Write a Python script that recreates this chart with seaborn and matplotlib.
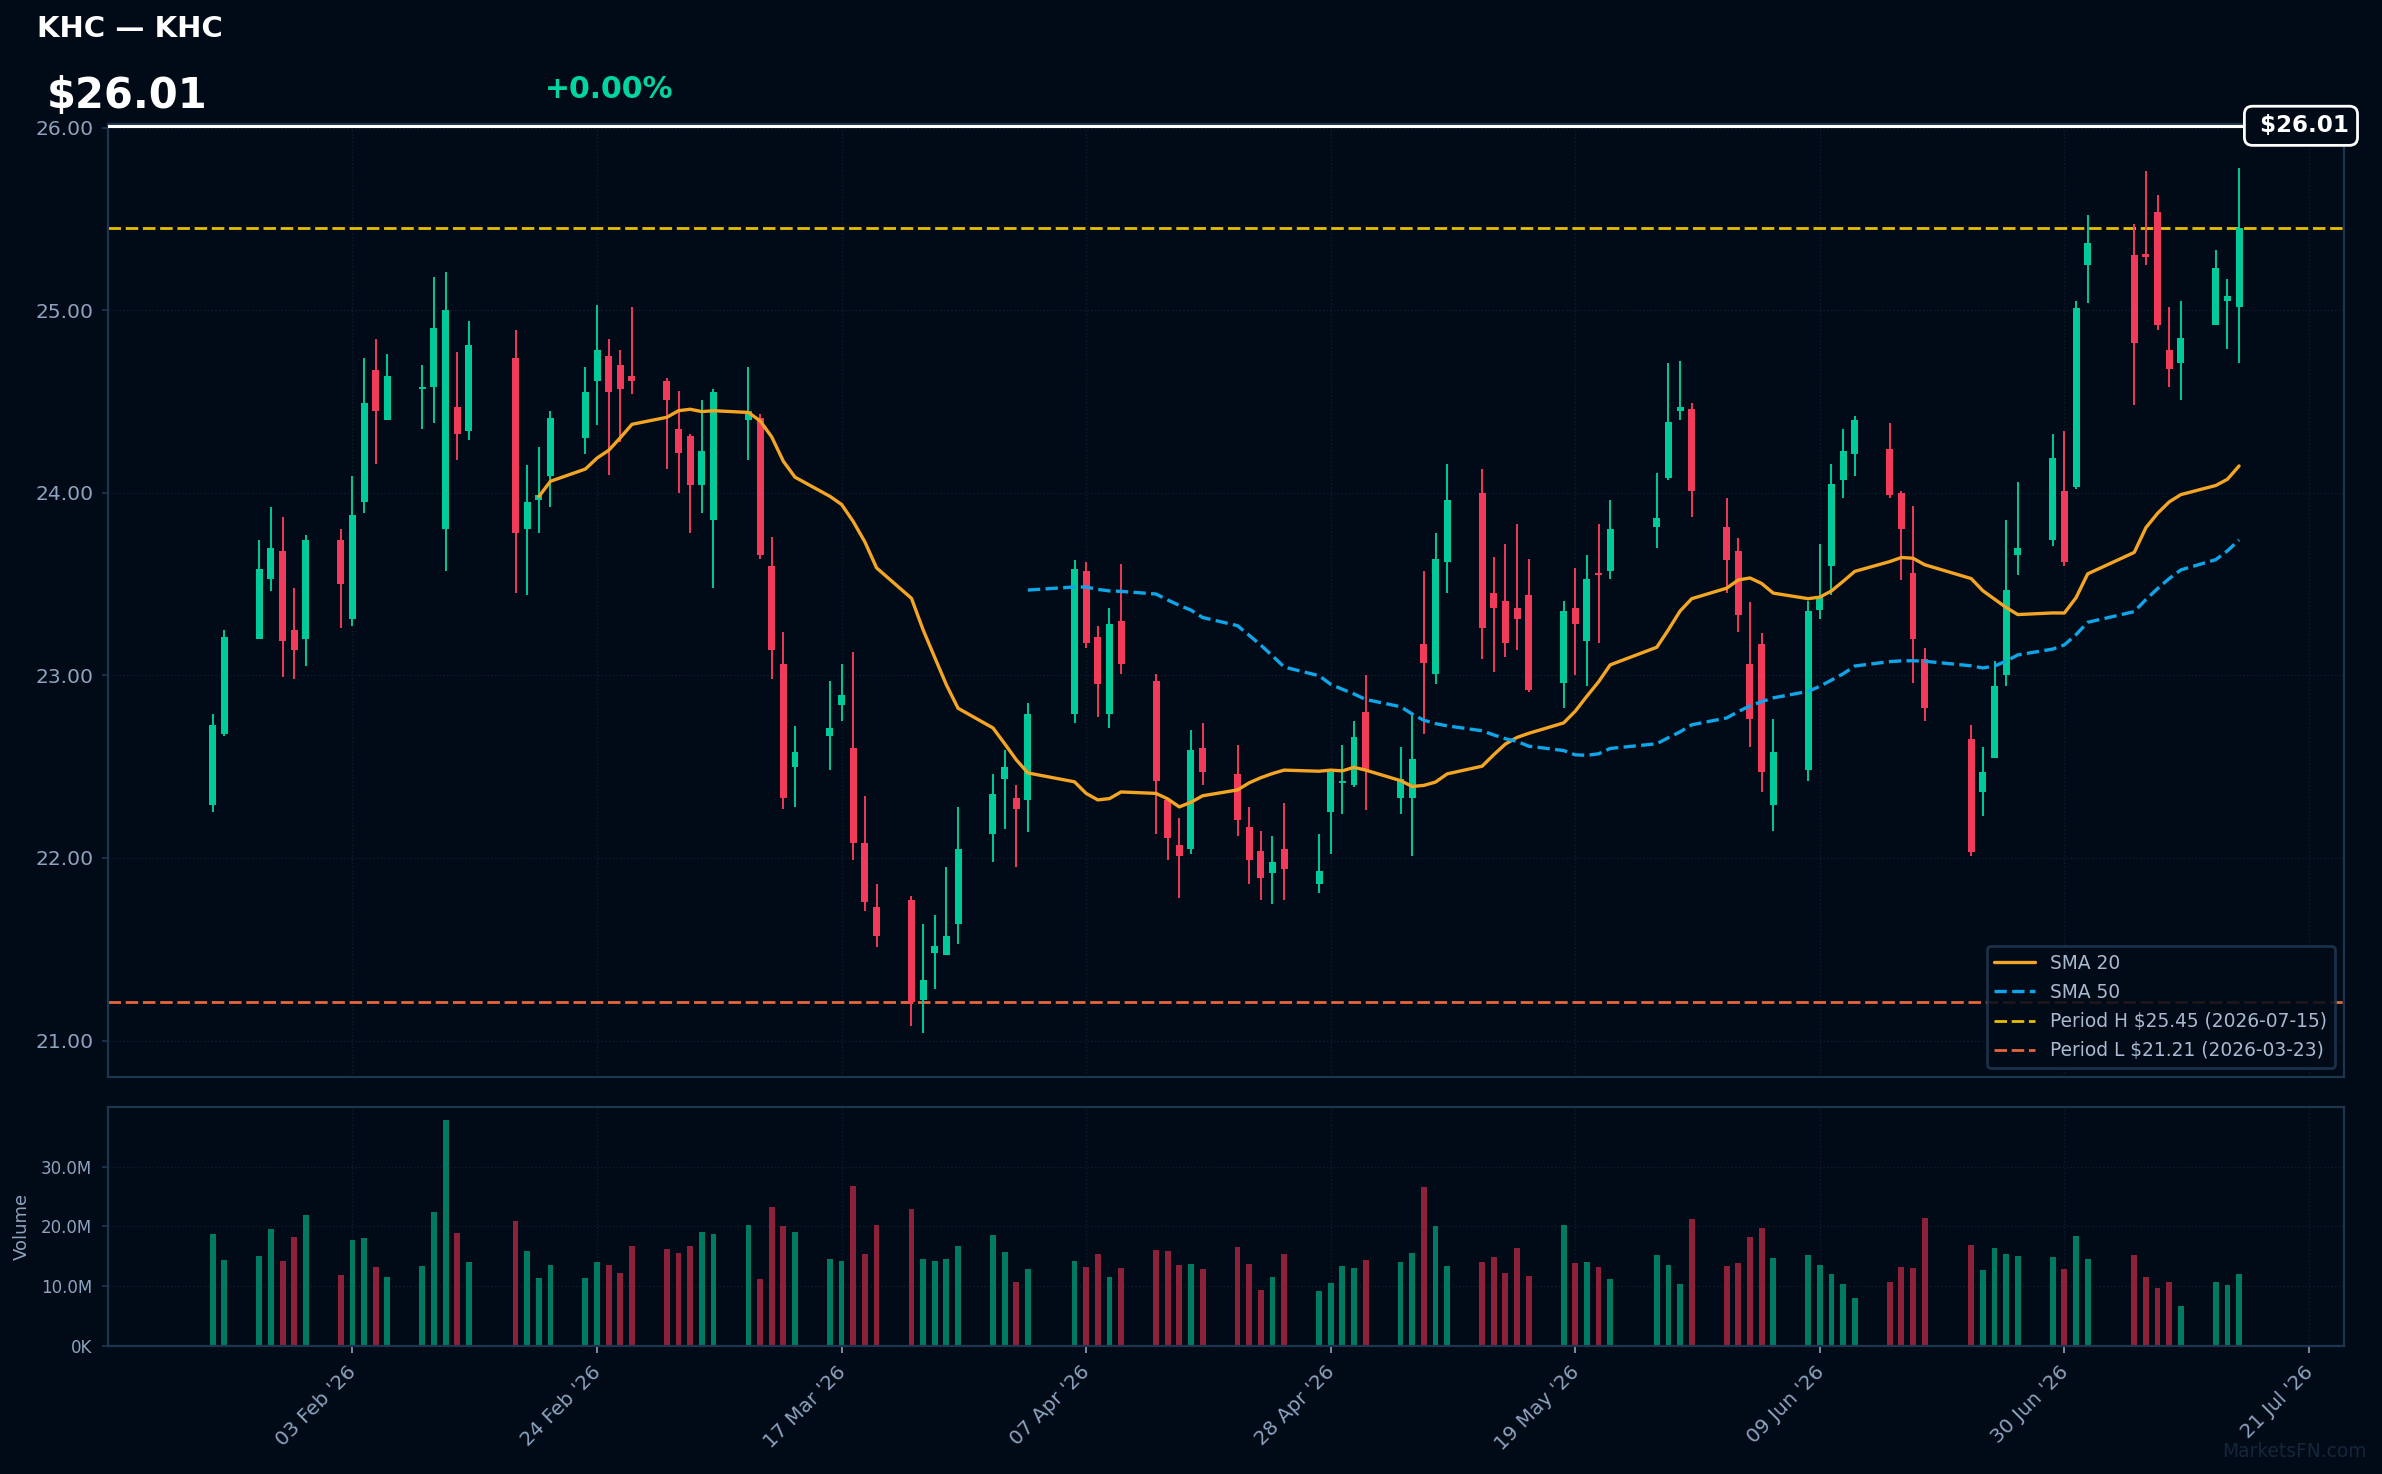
import numpy as np
import pandas as pd
import seaborn as sns
import matplotlib
matplotlib.use("Agg")
import matplotlib.pyplot as plt
import matplotlib.dates as mdates
import matplotlib.transforms as mtrans
from matplotlib.ticker import FixedLocator, FuncFormatter, MultipleLocator

TICKER = "KHC"
LAST_PRICE = 26.01
CHANGE_PCT = 0.00

# trading calendar (NYSE holidays dropped)
HOLIDAYS = ["2026-02-16", "2026-04-03", "2026-05-25", "2026-06-19", "2026-07-03"]
dates = pd.bdate_range("2026-01-22", "2026-07-15", freq="C", holidays=HOLIDAYS)

opens = [22.29, 22.68, 23.20, 23.53, 23.68, 23.25, 23.20, 23.74, 23.31, 23.95,
         24.67, 24.40, 24.57, 24.58, 23.80, 24.47, 24.34, 24.74, 23.80, 23.96,
         24.09, 24.30, 24.61, 24.75, 24.70, 24.64, 24.61, 24.35, 24.31, 24.04,
         23.85, 24.40, 24.41, 23.60, 23.06, 22.50, 22.67, 22.84, 22.60, 22.08,
         21.73, 21.77, 21.22, 21.48, 21.47, 21.64, 22.13, 22.43, 22.33, 22.32,
         22.79, 23.57, 23.21, 22.79, 23.30, 22.97, 22.32, 22.07, 22.05, 22.60,
         22.46, 22.17, 22.04, 21.92, 22.05, 21.86, 22.25, 22.41, 22.40, 22.80,
         22.33, 22.33, 23.17, 23.01, 23.62, 24.00, 23.45, 23.41, 23.37, 23.44,
         22.96, 23.37, 23.19, 23.56, 23.57, 23.81, 24.08, 24.45, 24.46, 23.81,
         23.68, 23.06, 23.17, 22.29, 22.48, 23.36, 23.60, 24.07, 24.21, 24.24,
         24.00, 23.56, 23.09, 22.65, 22.36, 22.55, 23.00, 23.66, 23.74, 24.01,
         24.03, 25.25, 25.30, 25.31, 25.54, 24.78, 24.71, 24.92, 25.05, 25.02]
highs = [22.79, 23.25, 23.74, 23.92, 23.87, 23.48, 23.77, 23.80, 24.09, 24.74,
         24.84, 24.76, 24.70, 25.18, 25.21, 24.77, 24.94, 24.89, 24.15, 24.25,
         24.45, 24.69, 25.03, 24.84, 24.78, 25.02, 24.63, 24.56, 24.32, 24.51,
         24.57, 24.69, 24.43, 23.76, 23.24, 22.72, 22.97, 23.06, 23.13, 22.34,
         21.86, 21.79, 21.64, 21.69, 21.95, 22.28, 22.46, 22.59, 22.40, 22.85,
         23.63, 23.62, 23.27, 23.37, 23.61, 23.01, 22.32, 22.22, 22.70, 22.74,
         22.62, 22.28, 22.15, 22.12, 22.30, 22.13, 22.47, 22.62, 22.75, 23.00,
         22.61, 22.79, 23.57, 23.78, 24.16, 24.13, 23.65, 23.72, 23.83, 23.64,
         23.41, 23.59, 23.66, 23.83, 23.96, 24.11, 24.71, 24.72, 24.49, 23.97,
         23.75, 23.40, 23.23, 22.76, 23.41, 23.72, 24.16, 24.35, 24.42, 24.38,
         24.01, 23.93, 23.15, 22.73, 22.61, 23.08, 23.85, 24.06, 24.32, 24.34,
         25.05, 25.52, 25.47, 25.76, 25.63, 25.02, 25.05, 25.33, 25.17, 25.78]
lows = [22.25, 22.67, 23.20, 23.46, 22.99, 22.98, 23.05, 23.26, 23.27, 23.89,
        24.16, 24.40, 24.35, 24.38, 23.57, 24.18, 24.29, 23.45, 23.44, 23.78,
        23.92, 24.21, 24.37, 24.10, 24.28, 24.54, 24.13, 24.00, 23.78, 23.89,
        23.48, 24.18, 23.64, 22.98, 22.27, 22.28, 22.48, 22.75, 21.99, 21.71,
        21.51, 21.08, 21.04, 21.28, 21.47, 21.53, 21.98, 22.16, 21.95, 22.14,
        22.74, 23.15, 22.77, 22.71, 23.01, 22.13, 21.99, 21.78, 22.02, 22.40,
        22.12, 21.86, 21.77, 21.75, 21.77, 21.81, 22.02, 22.24, 22.39, 22.26,
        22.24, 22.01, 22.68, 22.95, 23.45, 23.09, 23.02, 23.10, 23.14, 22.91,
        22.82, 23.00, 22.94, 23.18, 23.53, 23.70, 24.07, 24.40, 23.87, 23.45,
        23.24, 22.61, 22.36, 22.15, 22.42, 23.31, 23.44, 23.97, 24.09, 23.97,
        23.52, 22.96, 22.75, 22.01, 22.23, 22.55, 22.94, 23.55, 23.71, 23.60,
        24.02, 25.04, 24.48, 25.25, 24.89, 24.58, 24.51, 24.92, 24.79, 24.71]
closes = [22.73, 23.21, 23.58, 23.70, 23.19, 23.14, 23.74, 23.50, 23.88, 24.49,
          24.45, 24.64, 24.58, 24.90, 25.00, 24.32, 24.81, 23.78, 23.95, 23.99,
          24.41, 24.55, 24.78, 24.55, 24.57, 24.61, 24.51, 24.22, 24.04, 24.23,
          24.55, 24.45, 23.66, 23.14, 22.33, 22.58, 22.71, 22.89, 22.08, 21.76,
          21.57, 21.21, 21.33, 21.52, 21.57, 22.05, 22.35, 22.50, 22.27, 22.79,
          23.58, 23.18, 22.95, 23.28, 23.06, 22.42, 22.11, 22.01, 22.59, 22.47,
          22.21, 21.99, 21.89, 21.98, 21.94, 21.93, 22.47, 22.42, 22.66, 22.48,
          22.43, 22.54, 23.07, 23.64, 23.96, 23.26, 23.37, 23.18, 23.31, 22.92,
          23.35, 23.28, 23.53, 23.55, 23.80, 23.86, 24.39, 24.47, 24.01, 23.63,
          23.33, 22.76, 22.47, 22.58, 23.35, 23.43, 24.05, 24.23, 24.40, 23.99,
          23.80, 23.20, 22.82, 22.03, 22.47, 22.94, 23.47, 23.70, 24.19, 23.62,
          25.01, 25.37, 24.82, 25.29, 24.92, 24.68, 24.85, 25.23, 25.08, 25.45]
volume_m = [18.66, 14.32, 14.99, 19.50, 14.15, 18.16, 22.00, 11.81, 17.66, 17.99,
            13.15, 11.48, 13.31, 22.50, 37.88, 18.83, 13.98, 20.84, 15.82, 11.31,
            13.48, 11.31, 13.98, 13.48, 12.14, 16.66, 16.16, 15.49, 16.66, 19.16,
            18.66, 20.17, 11.14, 23.34, 20.00, 19.00, 14.48, 14.15, 26.69, 15.32,
            20.33, 22.84, 14.48, 14.15, 14.48, 16.66, 18.50, 15.65, 10.64, 12.81,
            14.15, 13.15, 15.32, 11.48, 12.98, 15.99, 15.82, 13.48, 13.65, 12.81,
            16.49, 13.65, 9.30, 11.48, 15.32, 9.14, 10.47, 13.31, 12.98, 14.32,
            13.98, 15.49, 26.52, 20.00, 13.31, 13.98, 14.82, 12.14, 16.32, 11.64,
            20.17, 13.82, 13.98, 13.15, 11.14, 15.15, 13.48, 10.31, 21.17, 13.31,
            13.82, 18.16, 19.67, 14.65, 15.15, 13.48, 11.98, 10.31, 7.97, 10.64,
            13.15, 12.98, 21.50, 16.82, 12.65, 16.32, 15.32, 14.99, 14.82, 12.81,
            18.33, 14.48, 15.15, 11.48, 9.64, 10.64, 6.63, 10.64, 10.14, 11.98]

tick_dates = ["2026-02-03", "2026-02-24", "2026-03-17", "2026-04-07", "2026-04-28",
              "2026-05-19", "2026-06-09", "2026-06-30", "2026-07-21"]

df = pd.DataFrame({"open": opens, "high": highs, "low": lows, "close": closes,
                   "volume": np.array(volume_m) * 1e6}, index=dates)
df["sma20"] = df["close"].rolling(20).mean()
df["sma50"] = df["close"].rolling(50).mean()
xs = mdates.date2num(df.index.to_pydatetime())

BG = "#010b17"
EDGE = "#1e3550"
TXT = "#8ea3bf"
UP, DOWN = "#00c99a", "#f23a5b"
VUP, VDOWN = "#017a62", "#8c2139"

sns.set_theme(style="dark", rc={
    "figure.facecolor": BG, "axes.facecolor": BG, "savefig.facecolor": BG,
    "axes.edgecolor": EDGE, "axes.linewidth": 0.8,
    "grid.color": "#0f1d2e", "grid.linestyle": ":", "grid.linewidth": 0.5,
    "xtick.color": TXT, "ytick.color": TXT, "axes.labelcolor": TXT,
    "text.color": "white",
})
plt.rcParams["font.family"] = ["DejaVu Sans"]

fig = plt.figure(figsize=(11.91, 7.37), dpi=200)
ax = fig.add_axes([0.0453, 0.2693, 0.9387, 0.6466])
axv = fig.add_axes([0.0453, 0.0868, 0.9387, 0.1621], sharex=ax)

up = (df["close"] >= df["open"]).values
ccol = np.where(up, UP, DOWN)
vcol = np.where(up, VUP, VDOWN)

# candles
ax.vlines(xs, df["low"], df["high"], colors=ccol, lw=0.7, zorder=2)
body = (df["close"] - df["open"]).abs().clip(lower=0.012)
ax.bar(xs, body, bottom=df[["open", "close"]].min(axis=1), width=0.6,
       color=ccol, linewidth=0, zorder=3)

sns.lineplot(x=xs, y=df["sma20"].values, ax=ax, color="#f5a524", lw=1.2,
             label="SMA 20", errorbar=None, zorder=4)
sns.lineplot(x=xs, y=df["sma50"].values, ax=ax, color="#0ea5e9", lw=1.2,
             linestyle="--", label="SMA 50", errorbar=None, zorder=4)

hi_day = df["close"].idxmax()
lo_day = df["close"].idxmin()
hi, lo = df["close"].max(), df["close"].min()
ax.axhline(hi, color="#e6bf00", lw=1.0, dashes=(4.5, 1.7), zorder=1,
           label=f"Period H ${hi:.2f} ({hi_day:%Y-%m-%d})")
ax.axhline(lo, color="#e5673d", lw=1.0, dashes=(4.5, 1.7), zorder=1,
           label=f"Period L ${lo:.2f} ({lo_day:%Y-%m-%d})")

ax.axhline(LAST_PRICE, color="white", lw=1.1, zorder=5)
trans = mtrans.blended_transform_factory(ax.transAxes, ax.transData)
ax.text(0.9808, LAST_PRICE, f" ${LAST_PRICE:.2f}", transform=trans, ha="center",
        va="center", fontsize=8.3, weight="bold", color="white", zorder=6,
        clip_on=False,
        bbox=dict(boxstyle="round,pad=0.35", fc=BG, ec="white", lw=1.0))

x0 = mdates.date2num(pd.Timestamp("2026-01-13"))
x1 = mdates.date2num(pd.Timestamp("2026-07-24"))
ax.set_xlim(x0, x1)
ax.set_ylim(20.80, 26.02)
ax.yaxis.set_major_locator(MultipleLocator(1.0))
ax.yaxis.set_major_formatter(FuncFormatter(lambda v, p: f"{v:.2f}"))
ax.tick_params(axis="y", left=True, length=2.2, width=0.6, color=EDGE,
               labelsize=7.3, labelcolor=TXT, pad=3)
ax.tick_params(axis="x", bottom=False, labelbottom=False)
ax.grid(True)
ax.set_xlabel("")
ax.set_ylabel("")
for s in ax.spines.values():
    s.set_color(EDGE)

leg = ax.legend(loc="lower right", fontsize=6.7, frameon=True, fancybox=True,
                handlelength=2.2, labelspacing=0.55, borderaxespad=0.5)
leg.get_frame().set_facecolor(BG)
leg.get_frame().set_edgecolor(EDGE)
leg.get_frame().set_alpha(0.88)
for t in leg.get_texts():
    t.set_color("#a9b9cf")

# volume panel
axv.bar(xs, df["volume"], width=0.5, color=vcol, linewidth=0, zorder=2)
axv.set_ylim(0, df["volume"].max() * 1.055)
axv.yaxis.set_major_locator(MultipleLocator(10e6))
axv.yaxis.set_major_formatter(FuncFormatter(
    lambda v, p: f"{v / 1e6:.1f}M" if v >= 1e6 else f"{v / 1e3:.0f}K"))
axv.xaxis.set_major_locator(FixedLocator(mdates.date2num(pd.to_datetime(tick_dates))))
axv.xaxis.set_major_formatter(mdates.DateFormatter("%d %b '%y"))
axv.tick_params(axis="y", left=True, length=2.2, width=0.6, color=EDGE,
                labelsize=6, labelcolor=TXT)
axv.tick_params(axis="x", bottom=True, length=2.4, width=0.6, color=TXT,
                labelsize=7.2, labelcolor=TXT, pad=3.5)
for lab in axv.get_xticklabels():
    lab.set_rotation(45)
    lab.set_ha("right")
    lab.set_rotation_mode("anchor")
    lab.set_transform(lab.get_transform() + mtrans.ScaledTranslation(-2 / 72, 0, fig.dpi_scale_trans))
axv.grid(True)
axv.set_ylabel("Volume", fontsize=6.5, color=TXT)
axv.yaxis.set_label_coords(-0.0344, 0.5)
for s in axv.spines.values():
    s.set_color(EDGE)

fig.text(0.0154, 0.9749, f"{TICKER} \u2014 {TICKER}", fontsize=10.5,
         weight="bold", color="white")
fig.text(0.0197, 0.9267, f"${LAST_PRICE:.2f}", fontsize=15, weight="bold",
         color="white")
fig.text(0.2288, 0.9335, f"+{CHANGE_PCT:.2f}%", fontsize=10.8, weight="bold",
         color="#00d4a0")
fig.text(0.9937, 0.0115, "MarketsFN.com", fontsize=6.7, ha="right",
         color="#16263a")

fig.savefig("out.png", dpi=200, facecolor=BG)
